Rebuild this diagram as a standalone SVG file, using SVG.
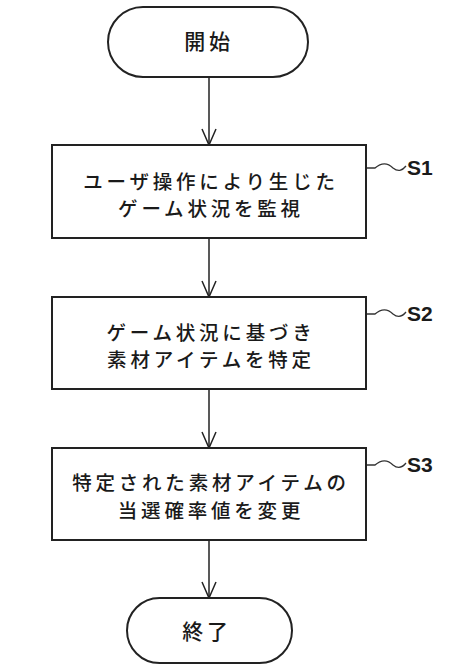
<svg xmlns="http://www.w3.org/2000/svg" width="471" height="669" viewBox="0 0 471 669">
  <defs>
    <style>
      .shape { fill: #fff; stroke: #222; stroke-width: 2; }
      .t { font-family: "Noto Sans CJK JP", "Noto Sans", sans-serif; font-size: 19.5px; font-weight: 500; fill: #1a1a1a; text-anchor: middle; letter-spacing: 3.8px; }
      .lbl { font-family: "Liberation Sans", Arial, sans-serif; font-size: 21px; font-weight: bold; fill: #1a1a1a; }
      .conn { stroke: #222; stroke-width: 1.5; fill: none; }
      .sq { stroke: #333; stroke-width: 1.3; fill: none; }
    </style>
    <marker id="arr" viewBox="0 0 18 16" refX="17" refY="8" markerWidth="18" markerHeight="16" markerUnits="userSpaceOnUse" orient="auto">
      <path d="M1,1 L17,8 L1,15" fill="none" stroke="#222" stroke-width="1.5"/>
    </marker>
  </defs>
  <rect width="471" height="669" fill="#fff"/>

  <g id="connectors">
    <line class="conn" x1="209" y1="77" x2="209" y2="145" marker-end="url(#arr)"/>
    <line class="conn" x1="209" y1="238" x2="209" y2="297" marker-end="url(#arr)"/>
    <line class="conn" x1="209" y1="389" x2="209" y2="448" marker-end="url(#arr)"/>
    <line class="conn" x1="209" y1="540" x2="209" y2="598" marker-end="url(#arr)"/>
  </g>

  <g id="start">
    <rect class="shape" x="108" y="7" width="200" height="70" rx="35" ry="35"/>
    <text class="t" x="209" y="49" style="font-size:21px">開始</text>
  </g>

  <g id="s1">
    <rect class="shape" x="52" y="145" width="314" height="93"/>
    <text class="t" x="211" y="189">ユーザ操作により生じた</text>
    <text class="t" x="211" y="216">ゲーム状況を監視</text>
    <path class="sq" d="M367,168 L375,168 C382,162 388,163 393,168 C398,172 402,171 406,166"/>
    <text class="lbl" x="407" y="175">S1</text>
  </g>

  <g id="s2">
    <rect class="shape" x="52" y="297" width="314" height="92"/>
    <text class="t" x="211" y="340">ゲーム状況に基づき</text>
    <text class="t" x="211" y="367">素材アイテムを特定</text>
    <path class="sq" d="M367,314 L375,314 C382,308 388,309 393,314 C398,318 402,317 406,312"/>
    <text class="lbl" x="407" y="321">S2</text>
  </g>

  <g id="s3">
    <rect class="shape" x="52" y="448" width="314" height="92"/>
    <text class="t" x="211" y="490">特定された素材アイテムの</text>
    <text class="t" x="211" y="518">当選確率値を変更</text>
    <path class="sq" d="M367,465 L375,465 C382,459 388,460 393,465 C398,469 402,468 406,463"/>
    <text class="lbl" x="407" y="472">S3</text>
  </g>

  <g id="end">
    <rect class="shape" x="127" y="598" width="165" height="65" rx="32.5" ry="32.5"/>
    <text class="t" x="207" y="639" style="font-size:21px">終了</text>
  </g>
</svg>
